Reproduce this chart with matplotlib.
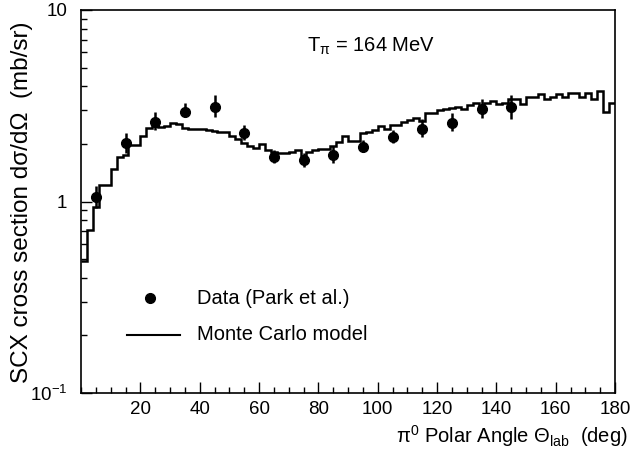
import numpy as np
import matplotlib
matplotlib.use("Agg")
import matplotlib.pyplot as plt
from matplotlib.ticker import FixedLocator, NullFormatter, MultipleLocator

plt.rcParams['font.family'] = ['Liberation Sans', 'DejaVu Sans']
plt.rcParams['mathtext.fontset'] = 'custom'
plt.rcParams['mathtext.rm'] = 'Liberation Sans'
plt.rcParams['mathtext.it'] = 'Liberation Sans:italic'
plt.rcParams['mathtext.bf'] = 'Liberation Sans:bold'

# ---- data ----
bin_edges = np.arange(0, 182, 2)  # 2-degree bins, 0..180
mc_values = [
    0.49, 0.71, 0.94, 1.22, 1.22, 1.47, 1.70, 1.75, 1.97, 1.97,
    2.20, 2.41, 2.48, 2.44, 2.48, 2.58, 2.54, 2.41, 2.38, 2.40,
    2.38, 2.36, 2.33, 2.30, 2.32, 2.20, 2.11, 2.01, 1.95, 1.90,
    2.00, 1.86, 1.82, 1.80, 1.80, 1.82, 1.85, 1.72, 1.82, 1.85,
    1.87, 1.88, 1.95, 2.05, 2.20, 2.08, 2.08, 2.28, 2.32, 2.36,
    2.48, 2.38, 2.50, 2.52, 2.60, 2.68, 2.72, 2.62, 2.90, 2.89,
    3.00, 3.04, 3.09, 3.13, 3.03, 3.19, 3.26, 3.15, 3.28, 3.36,
    3.22, 3.28, 3.42, 3.42, 3.23, 3.50, 3.50, 3.63, 3.42, 3.53,
    3.63, 3.53, 3.70, 3.70, 3.50, 3.70, 3.45, 3.79, 2.94, 3.26,
]

data_angle = [5, 15, 25, 35, 45, 55, 65, 75, 85, 95, 105, 115, 125, 135, 145]
data_value = [1.05, 2.01, 2.61, 2.94, 3.10, 2.29, 1.71, 1.65, 1.75, 1.93, 2.16, 2.39, 2.56, 3.03, 3.11]
data_low   = [0.92, 1.80, 2.35, 2.75, 2.75, 2.10, 1.58, 1.52, 1.59, 1.82, 2.01, 2.18, 2.33, 2.74, 2.70]
data_high  = [1.20, 2.27, 2.92, 3.25, 3.60, 2.50, 1.86, 1.79, 1.94, 2.10, 2.36, 2.70, 2.90, 3.42, 3.58]

xticks = [20, 40, 60, 80, 100, 120, 140, 160, 180]
yticks = [0.1, 1, 10]
ytick_labels = [r'$10^{-1}$', '1', '10']

# ---- figure ----
fig = plt.figure(figsize=(6.34, 4.53), dpi=100)
ax = fig.add_axes([81/634, 1-393/453, (615-81)/634, (393-10)/453])

ax.stairs(mc_values, bin_edges, color='black', linewidth=1.8, baseline=None)

yerr = [np.array(data_value) - np.array(data_low), np.array(data_high) - np.array(data_value)]
ax.errorbar(data_angle, data_value, yerr=yerr, fmt='o', color='black',
            markersize=7, elinewidth=1.8, capsize=0)

ax.set_yscale('log')
ax.set_xlim(0, 180)
ax.set_ylim(0.1, 10)

ax.xaxis.set_major_locator(FixedLocator(xticks))
ax.xaxis.set_minor_locator(MultipleLocator(5))
ax.set_xticklabels([str(t) for t in xticks])
ax.yaxis.set_major_locator(FixedLocator(yticks))
ax.set_yticklabels(ytick_labels)
ax.yaxis.set_minor_locator(FixedLocator([m * 10.0**e for e in (-1, 0) for m in range(2, 10)]))
ax.yaxis.set_minor_formatter(NullFormatter())

ax.tick_params(axis='both', which='major', direction='in', length=8, width=1,
               labelsize=13.5, top=False, right=False)
ax.tick_params(axis='y', which='major', pad=10)
ax.tick_params(axis='x', which='major', pad=6)
ax.tick_params(axis='both', which='minor', direction='in', length=4.5, width=1,
               top=False, right=False)
for s in ax.spines.values():
    s.set_linewidth(1.2)

fig.text(22/634, 1-202/453, 'SCX cross section dσ/dΩ  (mb/sr)', rotation=90,
         ha='center', va='center', fontsize=17.5)
fig.text(628/634, 1-436/453, r'π$^{0}$ Polar Angle Θ$_{\mathrm{lab}}$  (deg)',
         ha='right', va='center', fontsize=14.5)

ax.text(0.424, 0.905, r'T$_{\mathrm{π}}$ = 164 MeV', transform=ax.transAxes,
        ha='left', va='center', fontsize=14.5)

# legend
ax.plot([(150-81)/534*180], [10**((201.5-298)/191.5)], 'o', color='black', markersize=7)
ax.text((197-81)/534*180, 10**((201.5-298)/191.5), 'Data (Park et al.)', ha='left', va='center', fontsize=14.5)
ax.plot([(127-81)/534*180, (180-81)/534*180], [10**((201.5-335)/191.5)]*2, color='black', linewidth=1.5)
ax.text((197-81)/534*180, 10**((201.5-335)/191.5), 'Monte Carlo model', ha='left', va='center', fontsize=14.5)

fig.savefig('out.png', dpi=100)
